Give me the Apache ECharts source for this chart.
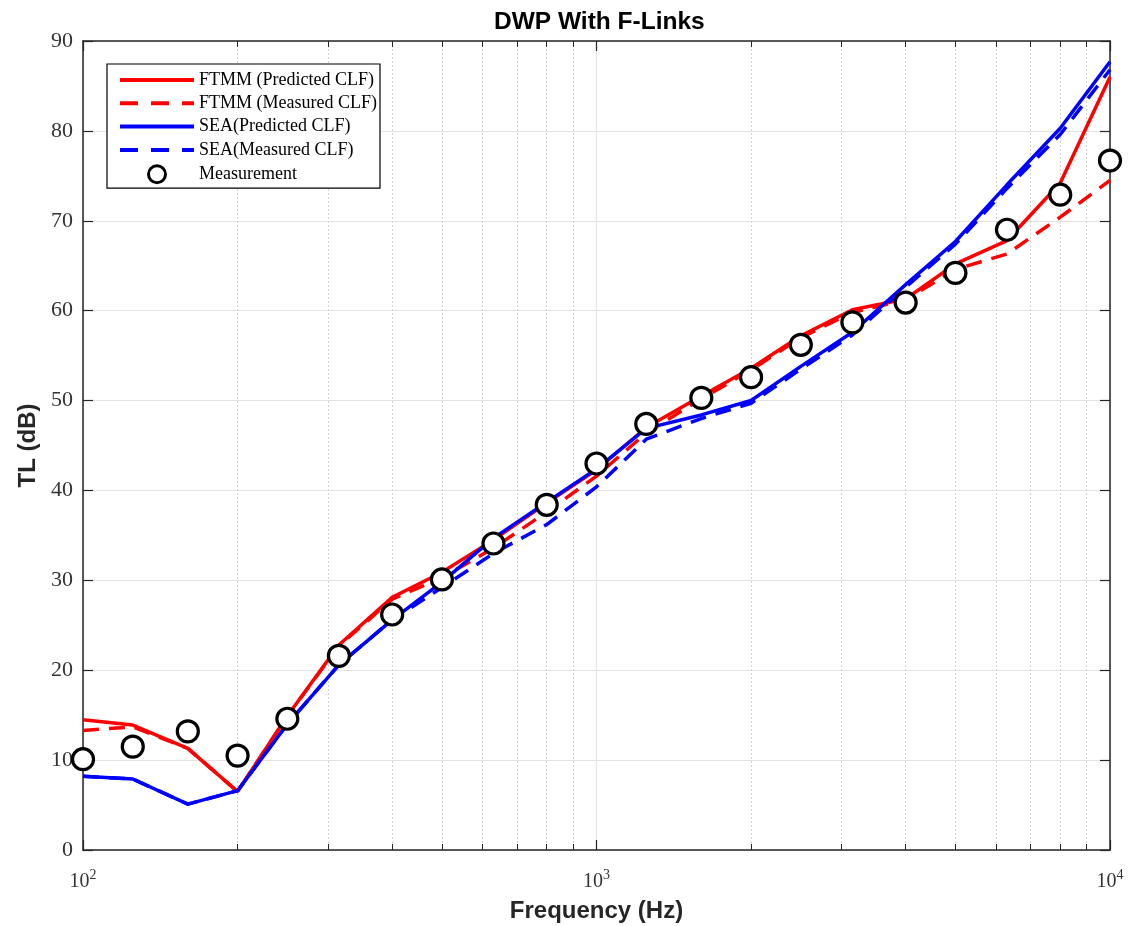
<!DOCTYPE html>
<html>
<head>
<meta charset="utf-8">
<title>DWP With F-Links</title>
<script src="https://cdn.jsdelivr.net/npm/echarts@6/dist/echarts.min.js"></script>
<style>
  html, body { margin: 0; padding: 0; background: #fff; }
  #chart { width: 1130px; height: 926px; }
</style>
</head>
<body>
<div id="chart"></div>
<script>
// third-octave band centre frequencies (Hz)
var freqs = [100, 125, 160, 200, 250, 315, 400, 500, 630, 800, 1000, 1250, 1600, 2000, 2500, 3150, 4000, 5000, 6300, 8000, 10000]

// TL (dB)
var ftmmPred = [14.5, 13.9, 11.3, 6.5, 14.9, 22.8, 28.1, 30.9, 34.5, 38.6, 42.3, 47.0, 50.5, 53.6, 57.2, 60.1, 61.3, 65.2, 67.8, 74.2, 86.0]
var ftmmMeas = [13.3, 13.7, 11.3, 6.5, 14.9, 22.7, 27.9, 30.3, 33.6, 37.6, 41.6, 46.4, 50.2, 53.4, 57.0, 59.8, 61.2, 64.6, 66.3, 70.4, 74.5]
var seaPred = [8.2, 7.9, 5.1, 6.6, 14.0, 20.6, 25.6, 29.8, 34.7, 38.7, 42.4, 46.9, 48.4, 50.0, 53.8, 57.6, 62.9, 67.7, 74.0, 80.3, 87.7]
var seaMeas = [8.2, 7.9, 5.1, 6.6, 14.0, 20.6, 25.6, 29.2, 33.0, 36.2, 40.4, 45.7, 48.0, 49.7, 53.5, 57.3, 62.6, 67.4, 73.6, 79.6, 86.8]
var measured = [10.1, 11.5, 13.2, 10.5, 14.6, 21.6, 26.2, 30.1, 34.1, 38.4, 43.0, 47.4, 50.3, 52.6, 56.2, 58.7, 60.9, 64.2, 69.0, 72.9, 76.7]

var yTicks = [0, 10, 20, 30, 40, 50, 60, 70, 80, 90]

function pairs(ys) {
  return freqs.map(function (f, i) { return [f, ys[i]] })
}

var serifFont = '"Liberation Serif", "Times New Roman", serif'
var sansFont = '"Liberation Sans", Arial, sans-serif'
var axisColor = '#262626'

function lineSeries(name, ys, color, dashed) {
  return {
    name: name,
    type: 'line',
    data: pairs(ys),
    symbol: 'none',
    showSymbol: false,
    clip: false,
    lineStyle: { color: color, width: 3.5, type: dashed ? [16, 10] : 'solid' },
    itemStyle: { color: color },
    emphasis: { disabled: true },
    animation: false
  }
}

var chart = echarts.init(document.getElementById('chart'))

var xBase = {
  type: 'log',
  logBase: 10,
  min: 100,
  max: 10000,
  axisLine: { show: true, onZero: false, lineStyle: { color: axisColor, width: 1.5 } },
  axisTick: { show: true, inside: true, length: 10, lineStyle: { color: axisColor, width: 1.2 } },
  minorTick: { show: true, splitNumber: 9, length: 6, lineStyle: { color: axisColor, width: 1 } }
}

// legend entries for the lines: hide the marker dot, keep a thick line
function lineLegend(name, dashed) {
  return {
    name: name,
    itemStyle: { opacity: 0 },
    lineStyle: { width: 4, type: dashed ? [18, 13] : 'solid' }
  }
}

chart.setOption({
  backgroundColor: '#fff',
  animation: false,
  title: {
    text: 'DWP With F-Links',
    left: 489,
    top: 5,
    textStyle: { fontFamily: sansFont, fontWeight: 'bold', fontSize: 24.5, color: '#000' }
  },
  grid: { left: 83, right: 20, top: 41, bottom: 76, containLabel: false, outerBoundsMode: 'none' },
  legend: {
    orient: 'vertical',
    left: 107,
    top: 64,
    padding: [7, 3, 4, 11],
    itemWidth: 74,
    itemHeight: 17,
    itemGap: 5.3,
    backgroundColor: '#fff',
    borderColor: '#000',
    borderWidth: 1.2,
    textStyle: { fontFamily: serifFont, fontSize: 18, color: '#000' },
    data: [
      lineLegend('FTMM (Predicted CLF)', false),
      lineLegend('FTMM (Measured CLF)', true),
      lineLegend('SEA(Predicted CLF)', false),
      lineLegend('SEA(Measured CLF)', true),
      { name: 'Measurement', itemStyle: { borderWidth: 3 } }
    ]
  },
  xAxis: [
    Object.assign({}, xBase, {
      position: 'bottom',
      name: 'Frequency (Hz)',
      nameLocation: 'middle',
      nameGap: 45,
      nameTextStyle: { fontFamily: sansFont, fontWeight: 'bold', fontSize: 24, color: '#262626' },
      axisLabel: {
        margin: 18,
        formatter: function (v) {
          return '{b|10}{s|' + Math.round(Math.log10(v)) + '}'
        },
        rich: {
          b: { fontFamily: serifFont, fontSize: 20, color: '#333', lineHeight: 24, verticalAlign: 'bottom' },
          s: { fontFamily: serifFont, fontSize: 14, color: '#333', lineHeight: 24, verticalAlign: 'top', padding: [0, 0, 12, 0] }
        }
      },
      splitLine: { show: true, lineStyle: { color: '#e3e3e3', width: 1.2 } },
      minorSplitLine: { show: true, lineStyle: { color: '#d2d2d2', width: 1, type: [2, 2] } }
    }),
    Object.assign({}, xBase, {
      position: 'top',
      axisLabel: { show: false },
      splitLine: { show: false },
      minorSplitLine: { show: false }
    })
  ],
  yAxis: [
    {
      type: 'value',
      position: 'left',
      min: yTicks[0],
      max: yTicks[yTicks.length - 1],
      interval: 10,
      name: 'TL (dB)',
      nameLocation: 'middle',
      nameGap: 36,
      nameTextStyle: { fontFamily: sansFont, fontWeight: 'bold', fontSize: 24, color: '#262626' },
      axisLine: { show: true, lineStyle: { color: axisColor, width: 1.5 } },
      axisTick: { show: true, inside: true, length: 10, lineStyle: { color: axisColor, width: 1.2 } },
      axisLabel: { margin: 10, fontFamily: serifFont, fontSize: 22, color: '#333' },
      splitLine: { show: true, lineStyle: { color: '#e3e3e3', width: 1.2 } }
    },
    {
      type: 'value',
      position: 'right',
      min: yTicks[0],
      max: yTicks[yTicks.length - 1],
      interval: 10,
      axisLine: { show: true, lineStyle: { color: axisColor, width: 1.5 } },
      axisTick: { show: true, inside: true, length: 10, lineStyle: { color: axisColor, width: 1.2 } },
      axisLabel: { show: false },
      splitLine: { show: false }
    }
  ],
  series: [
    lineSeries('FTMM (Predicted CLF)', ftmmPred, '#ff0000', false),
    lineSeries('FTMM (Measured CLF)', ftmmMeas, '#ff0000', true),
    lineSeries('SEA(Predicted CLF)', seaPred, '#0000ff', false),
    lineSeries('SEA(Measured CLF)', seaMeas, '#0000ff', true),
    {
      name: 'Measurement',
      type: 'scatter',
      data: pairs(measured),
      symbol: 'circle',
      symbolSize: 21,
      clip: false,
      itemStyle: { color: '#fff', borderColor: '#000', borderWidth: 3.2, opacity: 1 },
      emphasis: { disabled: true },
      z: 5
    }
  ]
})
</script>
</body>
</html>
